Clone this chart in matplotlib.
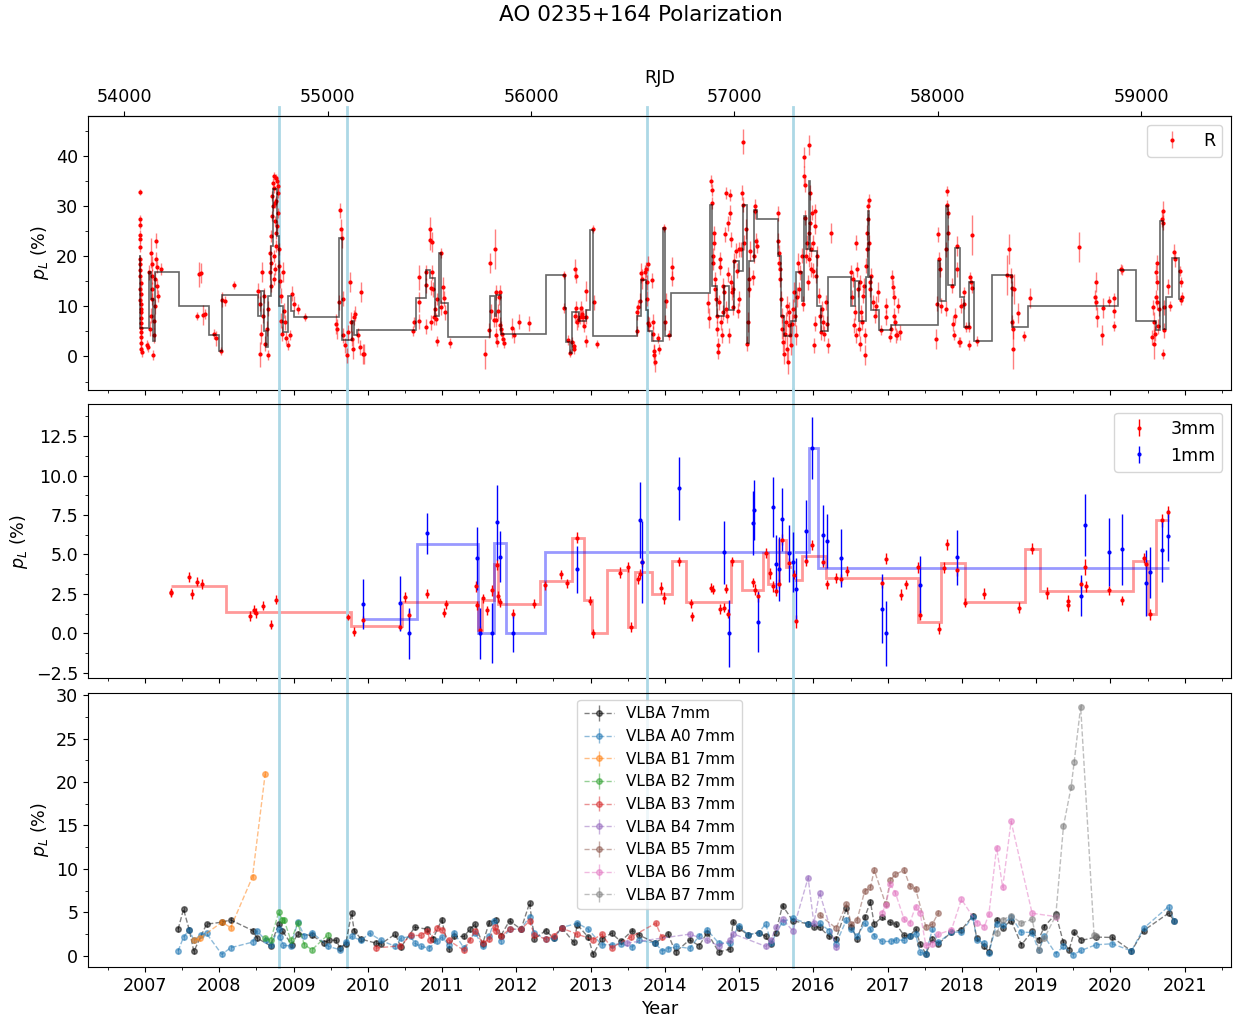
"""
AO 0235+164 polarization: optical R band, mm (3mm / 1mm) and VLBA 7mm knots
"""

import numpy as np
import matplotlib.pyplot as plt
from matplotlib.ticker import AutoMinorLocator, MultipleLocator, FixedLocator

# ---------------- optical R band (decimal year, p_L %, error) ----------------
r_year = [
    # 2006/07 season
    2006.930, 2006.926, 2006.928, 2006.931, 2006.933, 2006.929, 2006.935, 2006.932, 2006.937, 2006.934,
    2006.939, 2006.936, 2006.941, 2006.938, 2006.943, 2006.940, 2006.945, 2006.942, 2006.947, 2006.944,
    2006.949, 2006.946, 2006.951, 2006.948, 2006.953,
    2007.032, 2007.045, 2007.054, 2007.063, 2007.077, 2007.080, 2007.095, 2007.098, 2007.113, 2007.117,
    2007.131, 2007.144, 2007.153, 2007.167, 2007.176, 2007.212, 2007.100, 2007.140, 2007.160, 2007.120,
    2007.090,
    2007.706, 2007.729, 2007.760, 2007.783, 2007.805, 2007.931, 2007.954, 2008.021, 2008.030, 2008.075,
    2008.192,
    # 2008 flare
    2008.525, 2008.548, 2008.552, 2008.561, 2008.579, 2008.593, 2008.602, 2008.615, 2008.638, 2008.651,
    2008.660, 2008.678, 2008.687, 2008.696, 2008.705, 2008.714, 2008.723, 2008.732, 2008.734, 2008.741,
    2008.750, 2008.752, 2008.759, 2008.768, 2008.777, 2008.786, 2008.795, 2008.804, 2008.818, 2008.827,
    2008.836, 2008.845, 2008.854, 2008.867, 2008.885, 2008.903, 2008.921, 2008.953, 2008.975, 2009.011,
    2009.056, 2009.155, 2008.720, 2008.745, 2008.760, 2008.780, 2008.790, 2008.735, 2008.700, 2008.690,
    2008.800, 2008.770,
    2009.569, 2009.587, 2009.614, 2009.627, 2009.636, 2009.650, 2009.663, 2009.672, 2009.695, 2009.717,
    2009.731, 2009.762, 2009.776, 2009.785, 2009.798, 2009.812, 2009.830, 2009.866, 2009.897, 2009.911,
    2009.929, 2009.947,
    # 2010 - 2011
    2010.607, 2010.616, 2010.684, 2010.693, 2010.695, 2010.783, 2010.787, 2010.789, 2010.832, 2010.841,
    2010.850, 2010.864, 2010.866, 2010.855, 2010.873, 2010.886, 2010.900, 2010.918, 2010.931, 2010.933,
    2010.981, 2010.983, 2011.012, 2011.030, 2011.039, 2011.111,
    2011.574, 2011.633, 2011.642, 2011.660, 2011.696, 2011.718, 2011.720, 2011.727, 2011.732, 2011.741,
    2011.750, 2011.763, 2011.777, 2011.786, 2011.799, 2011.808, 2011.817, 2011.831, 2011.943, 2011.966,
    2012.042, 2012.173,
    # 2012 - 2013
    2012.641, 2012.645, 2012.699, 2012.722, 2012.744, 2012.776, 2012.780, 2012.789, 2012.794, 2012.798,
    2012.807, 2012.821, 2012.834, 2012.852, 2012.866, 2012.879, 2012.897, 2012.911, 2012.933, 2012.942,
    2012.944, 2013.037, 2013.046, 2013.090,
    2013.621, 2013.630, 2013.644, 2013.666, 2013.680, 2013.698, 2013.729, 2013.743, 2013.756, 2013.765,
    2013.770, 2013.779, 2013.788, 2013.833, 2013.842, 2013.844, 2013.851, 2013.860, 2013.869, 2013.905,
    2013.923, 2013.986, 2013.999, 2014.013, 2014.058, 2014.094, 2014.096,
    # 2014/15
    2014.575, 2014.598, 2014.620, 2014.629, 2014.638, 2014.643, 2014.647, 2014.656, 2014.665, 2014.674,
    2014.679, 2014.688, 2014.697, 2014.706, 2014.715, 2014.719, 2014.733, 2014.742, 2014.746, 2014.755,
    2014.764, 2014.778, 2014.787, 2014.800, 2014.814, 2014.818, 2014.823, 2014.836, 2014.845, 2014.854,
    2014.868, 2014.877, 2014.881, 2014.890, 2014.895, 2014.904, 2014.913, 2014.922, 2014.935, 2014.958,
    2014.971, 2014.980, 2014.994, 2015.003, 2015.025, 2015.039, 2015.048, 2015.057, 2015.070, 2015.093,
    2015.111, 2015.120, 2015.129, 2015.138, 2015.147, 2015.183, 2015.205, 2015.210, 2015.219, 2015.228,
    2015.237,
    # 2015/16
    2015.520, 2015.529, 2015.533, 2015.542, 2015.551, 2015.556, 2015.565, 2015.574, 2015.583, 2015.592,
    2015.601, 2015.614, 2015.628, 2015.641, 2015.650, 2015.659, 2015.668, 2015.677, 2015.691, 2015.700,
    2015.713, 2015.731, 2015.745, 2015.758, 2015.767, 2015.776, 2015.790, 2015.812, 2015.826, 2015.844,
    2015.857, 2015.871, 2015.875, 2015.884, 2015.893, 2015.902, 2015.911, 2015.925, 2015.934, 2015.938,
    2015.947, 2015.952, 2015.956, 2015.965, 2015.974, 2015.983, 2015.992, 2016.001, 2016.003, 2016.015,
    2016.024, 2016.028, 2016.037, 2016.046, 2016.082, 2016.091, 2016.105, 2016.114, 2016.127, 2016.136,
    2016.172, 2016.186, 2016.195, 2016.235,
    # 2016/17
    2016.510, 2016.523, 2016.532, 2016.546, 2016.559, 2016.568, 2016.577, 2016.586, 2016.600, 2016.609,
    2016.622, 2016.631, 2016.645, 2016.658, 2016.667, 2016.676, 2016.690, 2016.699, 2016.712, 2016.721,
    2016.726, 2016.735, 2016.739, 2016.744, 2016.748, 2016.757, 2016.766, 2016.780, 2016.802, 2016.825,
    2016.847, 2016.870, 2016.906, 2016.973, 2016.982, 2017.027, 2017.049, 2017.063, 2017.072, 2017.081,
    2017.085, 2017.094, 2017.108, 2017.130, 2017.144, 2017.162,
    2017.657, 2017.666, 2017.679, 2017.693, 2017.711, 2017.724, 2017.783, 2017.792, 2017.801, 2017.805,
    2017.810, 2017.814, 2017.873, 2017.882, 2017.895, 2017.904, 2017.927, 2017.936, 2017.954,
    # 2018 - 2020
    2017.972, 2017.994, 2018.026, 2018.030, 2018.053, 2018.093, 2018.098, 2018.107, 2018.116, 2018.129,
    2018.138, 2018.206, 2018.602, 2018.638, 2018.656, 2018.669, 2018.678, 2018.683, 2018.692, 2018.701,
    2018.759, 2018.840, 2018.917,
    2019.582, 2019.794, 2019.807, 2019.812, 2019.816, 2019.884, 2019.897, 2019.987, 2020.050, 2020.052,
    2020.054, 2020.136, 2020.149,
    2020.559, 2020.572, 2020.581, 2020.590, 2020.599, 2020.608, 2020.617, 2020.622, 2020.626, 2020.631,
    2020.640, 2020.649, 2020.694, 2020.703, 2020.707, 2020.712, 2020.716, 2020.721, 2020.779, 2020.797,
    2020.855, 2020.869, 2020.941, 2020.950, 2020.954, 2020.959,
]
r_pol = [
    32.9, 27.5, 26.2, 24.3, 23.5, 21.8, 19.5, 18.4, 17.2, 16.0,
    14.7, 13.5, 12.5, 11.3, 10.5, 9.5, 8.8, 7.6, 6.6, 5.6,
    4.9, 3.8, 2.6, 1.4, 0.9,
    2.2, 1.8, 16.8, 5.5, 20.7, 8.1, 13.4, 11.5, 0.2, 4.2,
    15.4, 23.1, 19.4, 17.8, 12.1, 17.4, 18.5, 10.0, 14.0, 7.0,
    16.0,
    8.1, 16.4, 16.6, 8.3, 8.5, 4.4, 3.6, 1.0, 11.3, 11.1,
    14.2,
    13.1, 10.5, 0.4, 4.5, 16.8, 8.1, 12.1, 2.5, 5.5, 0.2,
    9.5, 16.8, 20.7, 18.7, 28.0, 32.0, 34.6, 36.0, 15.4, 33.6,
    30.7, 17.4, 35.6, 24.7, 35.0, 32.7, 28.7, 21.4, 15.1, 12.1,
    7.1, 4.5, 16.8, 9.1, 6.8, 3.6, 2.2, 4.2, 12.5, 10.5,
    9.5, 7.9, 30.0, 27.0, 22.0, 26.0, 34.0, 20.0, 24.0, 14.0,
    18.0, 31.0,
    6.5, 5.5, 10.8, 29.2, 25.4, 23.7, 11.5, 4.2, 2.2, 0.2,
    4.8, 14.8, 6.8, 3.5, 1.5, 7.8, 8.5, 4.2, 1.8, 12.8,
    0.5, 0.5,
    5.0, 6.8, 15.8, 10.9, 7.0, 16.8, 14.2, 5.9, 25.4, 23.2,
    13.7, 22.9, 16.8, 6.8, 13.4, 7.8, 9.5, 7.5, 3.0, 11.5,
    9.8, 20.6, 13.9, 11.6, 8.8, 2.6,
    0.5, 5.2, 18.7, 9.0, 7.3, 21.4, 12.8, 4.2, 7.3, 2.8,
    9.0, 11.8, 12.8, 6.3, 5.5, 4.5, 3.4, 2.6, 5.6, 4.2,
    6.9, 6.6,
    16.2, 9.7, 3.2, 0.7, 2.8, 2.0, 1.5, 17.4, 8.1, 16.1,
    9.6, 6.8, 7.3, 7.9, 9.6, 8.5, 7.8, 6.1, 13.1, 7.9,
    3.0, 25.4, 10.8, 2.5,
    5.0, 8.8, 9.8, 11.1, 16.6, 15.4, 16.8, 17.4, 14.8, 11.5,
    6.6, 18.5, 6.3, 15.2, 6.9, 4.5, 1.0, 0.3, -1.1, 3.6,
    1.5, 25.6, 6.8, 11.1, 4.2, 17.8, 15.6,
    10.6, 7.6, 35.0, 33.3, 30.7, 20.1, 18.7, 24.6, 22.7, 15.4,
    13.4, 11.5, 8.1, 5.5, 2.2, 0.9, 10.8, 17.8, 19.4, 6.8,
    4.2, 8.8, 14.1, 12.8, 24.4, 32.7, 9.5, 8.1, 16.4, 26.6,
    4.2, 32.3, 28.7, 23.4, 14.8, 12.8, 9.8, 13.4, 19.1, 21.1,
    17.1, 9.1, 11.5, 21.4, 21.4, 32.7, 42.9, 30.3, 22.7, 25.4,
    2.5, 6.8, 13.4, 15.4, 21.1, 15.8, 20.1, 29.0, 30.0, 23.1,
    22.1,
    28.6, 23.1, 20.7, 18.7, 17.4, 15.4, 11.5, 8.1, 5.5, 2.8,
    0.5, 4.5, 6.8, 10.1, 1.5, -1.1, 6.2, 8.8, 4.2, 2.2,
    6.5, 9.5, 12.8, 8.1, 4.2, 11.8, 18.7, 13.4, 16.8, 20.1,
    10.5, 36.0, 39.9, 34.3, 27.7, 20.1, 22.7, 14.8, 19.4, 24.7,
    42.3, 32.7, 26.7, 17.4, 21.4, 28.7, 22.7, 17.1, 2.2, 29.0,
    26.0, 6.5, 16.1, 20.1, 12.1, 8.1, 4.8, 9.5, 6.8, 4.5,
    10.8, 6.5, 2.2, 24.7,
    16.8, 11.8, 15.4, 6.2, 8.8, 4.2, 22.7, 17.4, 13.4, 5.5,
    2.5, 14.8, 8.8, 6.8, 12.1, 14.1, 4.2, 0.2, 18.1, 21.4,
    24.7, 27.4, 30.0, 31.3, 22.7, 14.8, 13.4, 16.1, 10.8, 8.1,
    10.1, 12.8, 5.2, 10.1, 7.8, 3.8, 5.5, 15.8, 13.8, 11.8,
    8.1, 6.8, 4.2, 4.2, 10.1, 4.8,
    3.5, 10.5, 24.4, 19.4, 17.4, 10.1, 9.5, 21.4, 30.3, 33.0,
    28.7, 24.7, 14.1, 6.5, 4.2, 8.1, 22.1, 17.4, 2.8,
    2.8, 10.1, 12.9, 10.5, 5.8, 5.8, 2.2, 15.9, 14.8, 13.6,
    24.2, 3.0, 16.2, 21.5, 16.1, 13.6, 6.8, 1.5, 5.5, 13.4,
    8.7, 4.0, 11.6,
    21.9, 11.8, 14.8, 10.8, 7.8, 4.2, 9.6, 11.1, 11.6, 9.1,
    6.0, 17.4, 17.2,
    3.8, 9.8, 2.5, 6.8, 4.5, 11.8, 16.8, 18.7, 14.8, 10.8,
    6.0, 9.5, 27.4, 29.0, 26.7, 0.5, 5.2, 9.8, 14.0, 10.1,
    20.9, 19.4, 17.1, 14.8, 11.3, 11.8,
]
r_err = [
    0.6, 0.8, 0.8, 1.0, 0.8, 1.0, 0.8, 1.0, 1.0, 1.2,
    1.0, 1.0, 1.2, 1.0, 1.0, 1.2, 1.0, 1.0, 1.0, 1.2,
    1.0, 1.0, 1.0, 1.0, 1.0,
    1.0, 1.0, 1.5, 1.5, 3.0, 1.5, 1.5, 1.2, 1.0, 1.5,
    1.5, 1.5, 1.5, 1.2, 1.2, 1.2, 1.5, 1.5, 1.5, 1.5,
    1.5,
    0.8, 2.5, 2.0, 2.0, 1.0, 1.0, 1.5, 0.8, 1.5, 1.0,
    0.8,
    1.5, 1.5, 2.5, 2.0, 2.0, 1.5, 1.5, 1.5, 1.5, 1.0,
    1.5, 1.5, 1.5, 1.2, 1.0, 1.0, 1.0, 0.8, 1.2, 1.0,
    1.0, 1.2, 0.8, 1.2, 1.0, 1.0, 1.0, 1.2, 1.5, 1.5,
    1.5, 1.5, 2.0, 1.5, 1.5, 1.2, 1.0, 1.0, 1.5, 1.5,
    1.0, 0.8, 1.0, 1.0, 1.2, 1.0, 1.0, 1.2, 1.2, 1.2,
    1.2, 1.0,
    2.0, 2.0, 1.5, 1.5, 2.0, 2.0, 1.5, 1.5, 1.5, 1.5,
    1.5, 2.0, 2.0, 1.5, 2.0, 1.5, 1.5, 1.5, 1.5, 2.0,
    2.0, 2.0,
    1.0, 1.0, 2.5, 2.0, 1.5, 1.5, 1.5, 1.5, 2.5, 2.0,
    1.5, 2.0, 1.5, 1.5, 1.5, 1.5, 1.5, 1.2, 1.0, 1.2,
    1.5, 1.0, 2.0, 1.5, 1.5, 1.0,
    3.0, 1.5, 2.0, 1.5, 1.5, 4.0, 1.5, 1.5, 1.5, 1.0,
    1.5, 1.5, 1.5, 1.5, 1.5, 1.2, 1.2, 1.0, 2.0, 1.5,
    1.5, 1.5,
    0.8, 1.0, 1.0, 0.8, 1.0, 1.0, 1.0, 2.0, 1.5, 1.5,
    1.5, 1.5, 1.5, 1.5, 1.5, 1.5, 1.5, 1.2, 2.0, 1.5,
    1.2, 0.8, 1.5, 0.8,
    1.0, 1.5, 1.5, 1.5, 2.0, 2.0, 1.5, 1.5, 1.5, 1.5,
    1.5, 1.5, 1.5, 1.5, 1.5, 1.5, 1.5, 2.0, 2.0, 1.0,
    1.0, 0.8, 1.5, 1.5, 1.0, 2.0, 1.5,
    2.0, 2.0, 1.2, 1.2, 1.2, 1.5, 1.5, 1.5, 1.5, 1.5,
    1.5, 1.5, 1.5, 1.5, 1.5, 1.5, 1.5, 1.5, 1.5, 1.5,
    1.5, 1.5, 1.5, 1.5, 1.5, 1.2, 1.5, 1.5, 1.5, 1.5,
    1.5, 1.2, 1.5, 1.5, 1.5, 1.5, 1.5, 1.5, 1.5, 1.5,
    1.5, 1.5, 1.5, 1.5, 1.5, 1.5, 2.5, 1.5, 1.5, 2.0,
    1.5, 2.0, 1.5, 2.5, 2.0, 1.5, 1.5, 1.5, 1.5, 1.5,
    1.5,
    1.5, 1.5, 1.5, 1.5, 1.5, 1.5, 1.5, 1.5, 2.0, 2.0,
    2.0, 2.0, 2.0, 2.0, 2.5, 2.5, 2.0, 2.0, 2.0, 2.0,
    2.0, 2.0, 2.0, 2.0, 2.0, 2.0, 2.0, 1.5, 1.5, 1.5,
    1.5, 2.0, 2.0, 1.5, 1.5, 1.5, 1.5, 1.5, 1.5, 1.5,
    2.0, 1.5, 1.5, 1.5, 1.5, 1.5, 1.5, 1.5, 1.5, 1.5,
    1.5, 1.5, 1.5, 2.0, 1.5, 1.5, 1.5, 1.5, 1.5, 1.5,
    1.5, 1.5, 1.5, 2.0,
    1.5, 1.5, 1.5, 1.5, 1.5, 1.5, 1.5, 1.5, 1.5, 1.5,
    1.5, 1.5, 1.5, 1.5, 1.5, 1.5, 1.5, 2.0, 1.5, 1.5,
    1.5, 1.2, 1.2, 1.2, 1.5, 1.5, 1.5, 1.5, 1.5, 1.5,
    2.0, 2.0, 1.0, 1.5, 1.5, 1.0, 1.0, 1.5, 1.5, 1.5,
    1.5, 1.5, 1.5, 1.0, 1.5, 1.5,
    2.0, 1.5, 1.5, 1.5, 1.5, 1.5, 1.5, 1.5, 1.0, 1.0,
    1.0, 1.5, 1.5, 1.5, 1.0, 1.5, 2.0, 1.5, 1.0,
    1.0, 1.5, 1.0, 1.0, 1.0, 1.0, 1.0, 1.0, 1.0, 1.0,
    4.0, 1.0, 4.0, 3.0, 1.5, 1.5, 1.5, 4.0, 2.0, 3.0,
    2.0, 1.0, 2.0,
    3.0, 1.5, 2.0, 1.5, 2.0, 2.0, 2.0, 1.0, 1.0, 1.5,
    1.0, 1.0, 1.0,
    1.5, 1.5, 3.0, 2.0, 1.5, 1.5, 1.5, 1.5, 1.5, 1.5,
    1.5, 1.5, 1.5, 2.0, 1.5, 1.0, 1.5, 1.5, 1.5, 1.0,
    1.5, 1.5, 1.0, 1.0, 1.0, 1.0,
]

# Bayesian blocks of the R band (block edges, block values)
bb_edges = [
    2006.925, 2006.935, 2007.050, 2007.077, 2007.108, 2007.131, 2007.459, 2007.864, 2007.994, 2008.030,
    2008.525, 2008.560, 2008.600, 2008.635, 2008.650, 2008.690, 2008.720, 2008.780, 2008.810, 2008.860,
    2008.930, 2008.970, 2009.000, 2009.608, 2009.650, 2009.790, 2009.820, 2009.860, 2010.648, 2010.783,
    2010.832, 2010.900, 2010.963, 2010.986, 2011.080, 2011.642, 2011.710, 2011.727, 2011.790, 2012.402,
    2012.650, 2012.672, 2012.717, 2012.753, 2012.843, 2012.942, 2012.987, 2013.032, 2013.630, 2013.675,
    2013.743, 2013.779, 2013.833, 2013.977, 2014.004, 2014.080, 2014.611, 2014.640, 2014.700, 2014.800,
    2014.860, 2014.935, 2015.002, 2015.048, 2015.102, 2015.138, 2015.205, 2015.237, 2015.520, 2015.560,
    2015.600, 2015.700, 2015.770, 2015.840, 2015.870, 2015.902, 2015.947, 2015.960, 2016.050, 2016.100,
    2016.195, 2016.510, 2016.560, 2016.620, 2016.710, 2016.735, 2016.750, 2016.780, 2016.890, 2017.050,
    2017.679, 2017.710, 2017.790, 2017.815, 2017.904, 2017.972, 2018.026, 2018.098, 2018.161, 2018.399,
    2018.669, 2018.885, 2020.100, 2020.347, 2020.613, 2020.671, 2020.707, 2020.748, 2020.829, 2020.919,
    2020.964,
]
bb_vals = [
    20.0, 5.75, 16.8, 11.4, 3.0, 16.8, 10.0, 4.2, 1.0, 12.3,
    8.0, 13.0, 5.0, 1.8, 12.0, 22.0, 33.5, 24.0, 10.0, 4.8,
    12.0, 9.0, 7.9, 23.7, 3.2, 7.1, 4.2, 5.3, 11.7, 17.2,
    15.6, 8.0, 20.6, 10.7, 3.8, 12.0, 8.0, 12.3, 4.5, 16.2,
    9.7, 2.8, 0.7, 8.8, 7.1, 9.3, 25.3, 4.0, 8.1, 15.3,
    9.3, 5.0, 3.1, 25.6, 4.0, 12.7, 30.3, 14.0, 8.0, 14.0,
    9.3, 19.1, 17.0, 30.3, 2.7, 19.1, 29.2, 27.4, 20.0, 8.0,
    4.0, 7.0, 16.8, 11.0, 28.1, 21.4, 35.0, 21.0, 10.0, 5.0,
    15.8, 10.0, 15.0, 7.0, 15.8, 29.0, 15.8, 9.2, 5.2, 6.2,
    19.1, 11.0, 30.0, 14.2, 21.7, 11.8, 5.8, 14.9, 3.0, 16.2,
    5.9, 10.0, 17.3, 7.1, 5.2, 27.0, 5.5, 11.8, 19.7, 11.5,
]

# ---------------- mm polarization ----------------
mm3_year = [
    2007.352, 2007.354, 2007.595, 2007.631, 2007.704, 2007.771, 2008.411, 2008.463, 2008.499, 2008.587,
    2008.690, 2008.768, 2009.728, 2009.816, 2009.930, 2010.431, 2010.498, 2010.550, 2010.792, 2011.025,
    2011.046, 2011.454, 2011.469, 2011.510, 2011.557, 2011.603, 2011.676, 2011.733, 2011.758, 2011.774,
    2011.950, 2012.244, 2012.389, 2012.606, 2012.683, 2012.822, 2012.998, 2013.034, 2013.396, 2013.499,
    2013.540, 2013.639, 2013.659, 2013.695, 2013.953, 2013.989, 2014.195, 2014.349, 2014.365, 2014.622,
    2014.642, 2014.745, 2014.797, 2014.828, 2014.853, 2014.900, 2015.183, 2015.209, 2015.250, 2015.358,
    2015.414, 2015.450, 2015.492, 2015.533, 2015.574, 2015.677, 2015.739, 2015.770, 2015.898, 2015.981,
    2016.135, 2016.186, 2016.305, 2016.372, 2016.459, 2016.922, 2016.979, 2017.180, 2017.252, 2017.406,
    2017.442, 2017.694, 2017.756, 2017.802, 2017.936, 2018.044, 2018.297, 2018.765, 2018.950, 2019.151,
    2019.424, 2019.434, 2019.599, 2019.655, 2019.676, 2019.985, 2020.149, 2020.453, 2020.484, 2020.530,
    2020.690, 2020.772,
]
mm3_pol = [
    2.58, 2.62, 3.57, 2.49, 3.27, 3.13, 1.10, 1.50, 1.29, 1.75,
    0.55, 2.13, 1.03, 0.11, 0.82, 0.40, 2.30, 1.18, 2.51, 1.31,
    1.84, 2.98, 1.78, 0.19, 2.22, 1.46, 2.72, 4.35, 2.34, 1.96,
    1.25, 1.88, 3.04, 3.74, 3.17, 6.06, 2.07, 0.00, 3.84, 4.20,
    0.40, 3.42, 3.76, 4.50, 2.87, 2.24, 4.56, 1.90, 1.08, 2.89,
    2.77, 1.54, 1.63, 2.83, 1.25, 4.56, 3.23, 2.77, 2.34, 5.09,
    3.82, 2.98, 2.68, 3.15, 5.93, 4.45, 3.72, 0.76, 4.60, 5.61,
    4.50, 3.10, 3.51, 3.46, 3.95, 3.19, 4.73, 2.45, 3.10, 4.20,
    1.16, 0.28, 4.16, 5.64, 3.99, 1.94, 2.51, 1.63, 5.36, 2.56,
    1.78, 2.05, 3.10, 4.20, 2.98, 2.72, 2.09, 4.77, 4.37, 1.20,
    7.16, 7.68,
]
mm3_err = [
    0.25, 0.25, 0.3, 0.3, 0.3, 0.3, 0.3, 0.3, 0.3, 0.3,
    0.3, 0.3, 0.2, 0.3, 0.3, 0.2, 0.3, 0.3, 0.3, 0.3,
    0.3, 0.35, 0.3, 0.3, 0.3, 0.3, 0.35, 0.35, 0.35, 0.3,
    0.3, 0.3, 0.3, 0.3, 0.3, 0.35, 0.3, 0.3, 0.35, 0.3,
    0.3, 0.3, 0.3, 0.3, 0.4, 0.35, 0.3, 0.3, 0.3, 0.3,
    0.3, 0.3, 0.3, 0.3, 0.3, 0.3, 0.3, 0.35, 0.35, 0.3,
    0.35, 0.35, 0.3, 0.3, 0.35, 0.3, 0.3, 0.4, 0.3, 0.3,
    0.3, 0.3, 0.3, 0.3, 0.3, 0.3, 0.35, 0.35, 0.3, 0.35,
    0.3, 0.35, 0.35, 0.35, 0.35, 0.3, 0.35, 0.35, 0.35, 0.4,
    0.35, 0.35, 0.3, 0.5, 0.35, 0.3, 0.3, 0.3, 0.3, 0.35,
    0.4, 0.4,
]
mm3_edges = [
    2007.347, 2008.096, 2009.775, 2010.462, 2011.479, 2011.540, 2011.700, 2011.750, 2012.321, 2012.750,
    2012.905, 2013.024, 2013.215, 2013.509, 2013.592, 2013.830, 2014.092, 2014.287, 2014.889, 2015.044,
    2015.317, 2015.389, 2015.543, 2015.625, 2015.728, 2015.842, 2016.166, 2017.411, 2017.720, 2018.039,
    2018.852, 2019.048, 2020.304, 2020.510, 2020.613, 2020.782,
]
mm3_vals = [
    3.02, 1.33, 0.47, 1.99, 0.19, 2.13, 4.40, 1.86, 3.32, 6.06,
    2.09, 0.00, 3.99, 0.40, 3.87, 2.51, 4.56, 1.96, 4.58, 2.77,
    5.09, 3.15, 5.93, 4.20, 3.36, 4.92, 3.51, 0.74, 4.45, 1.99,
    5.34, 2.68, 4.58, 1.20, 7.18,
]

mm1_year = [
    2009.930, 2010.431, 2010.550, 2010.792, 2011.469, 2011.505, 2011.676, 2011.733, 2011.774, 2011.950,
    2012.822, 2013.659, 2013.695, 2014.196, 2014.802, 2014.859, 2015.188, 2015.203, 2015.250, 2015.450,
    2015.492, 2015.533, 2015.574, 2015.677, 2015.729, 2015.770, 2015.898, 2015.981, 2016.135, 2016.186,
    2016.372, 2016.922, 2016.979, 2017.442, 2017.936, 2019.599, 2019.655, 2019.985, 2020.154, 2020.484,
    2020.530, 2020.690, 2020.772,
]
mm1_pol = [
    1.86, 1.90, 0.00, 6.35, 4.75, 0.00, 0.00, 7.03, 4.86, 0.00,
    4.05, 7.16, 4.54, 9.18, 5.15, 0.00, 6.99, 7.79, 0.70, 7.98,
    4.41, 4.08, 7.24, 5.07, 4.52, 2.79, 6.46, 11.75, 6.23, 5.85,
    4.77, 1.56, 0.00, 3.08, 4.83, 2.37, 6.86, 5.17, 5.34, 3.21,
    3.87, 5.26, 6.19,
]
mm1_err = [
    1.56, 1.74, 1.6, 1.3, 2.0, 1.6, 1.9, 2.4, 1.6, 1.2,
    1.5, 2.4, 2.6, 2.0, 2.0, 2.1, 2.0, 1.9, 1.9, 1.9,
    1.85, 2.0, 2.0, 1.8, 1.9, 2.0, 2.0, 1.95, 1.9, 1.7,
    1.85, 2.2, 2.05, 1.8, 1.75, 1.3, 1.95, 2.15, 2.25, 2.1,
    1.6, 2.0, 1.6,
]
mm1_edges = [2009.930, 2010.668, 2011.479, 2011.702, 2011.856, 2012.389, 2015.945, 2016.058, 2020.782]
mm1_vals = [0.89, 5.68, 0.00, 5.72, 0.00, 5.15, 11.75, 4.16]

# ---------------- VLBA 7mm core and knots ----------------
vlba_year = [
    2007.445, 2007.518, 2007.595, 2007.657, 2007.828, 2008.034, 2008.153, 2008.447, 2008.509, 2008.690,
    2008.799, 2008.850, 2008.974, 2009.057, 2009.248, 2009.408, 2009.480, 2009.573, 2009.625, 2009.703,
    2009.780, 2009.816, 2009.909, 2010.106, 2010.178, 2010.369, 2010.446, 2010.632, 2010.803, 2010.875,
    2010.994, 2011.092, 2011.159, 2011.293, 2011.376, 2011.443, 2011.546, 2011.634, 2011.727, 2011.789,
    2011.908, 2012.063, 2012.177, 2012.244, 2012.394, 2012.502, 2012.611, 2012.771, 2012.822, 2012.967,
    2013.034, 2013.148, 2013.282, 2013.406, 2013.561, 2013.649, 2013.871, 2014.040, 2014.143, 2014.334,
    2014.462, 2014.570, 2014.725, 2014.874, 2014.920, 2014.992, 2015.121, 2015.265, 2015.358, 2015.430,
    2015.492, 2015.584, 2015.723, 2015.929, 2016.006, 2016.083, 2016.212, 2016.305, 2016.444, 2016.511,
    2016.588, 2016.691, 2016.768, 2016.819, 2016.922, 2017.025, 2017.113, 2017.221, 2017.298, 2017.375,
    2017.437, 2017.514, 2017.602, 2017.684, 2017.859, 2017.993, 2018.147, 2018.199, 2018.302, 2018.363,
    2018.467, 2018.549, 2018.662, 2018.801, 2018.945, 2019.032, 2019.110, 2019.264, 2019.367, 2019.444,
    2019.511, 2019.609, 2019.804, 2020.026, 2020.283, 2020.448, 2020.782, 2020.860,
]
vlba_pol = [
    3.05, 5.35, 2.98, 0.50, 3.63, 3.86, 4.12, 2.90, 2.02, 1.14,
    3.63, 2.86, 1.26, 2.52, 2.33, 1.45, 1.83, 1.76, 0.88, 1.37,
    4.89, 2.90, 1.91, 1.45, 1.37, 2.48, 0.99, 3.28, 3.05, 1.91,
    4.12, 0.76, 2.21, 2.21, 3.05, 3.63, 1.37, 3.82, 4.12, 2.29,
    4.01, 3.05, 6.04, 1.94, 2.90, 2.02, 3.24, 1.56, 3.55, 2.14,
    0.15, 1.91, 2.59, 1.64, 2.90, 2.40, 1.45, 2.52, 0.42, 1.83,
    1.14, 2.67, 0.42, 0.76, 3.93, 3.17, 2.40, 2.67, 2.21, 1.37,
    2.67, 5.77, 4.01, 3.67, 3.36, 3.28, 2.21, 1.91, 5.46, 3.36,
    1.91, 4.43, 6.19, 3.63, 4.43, 3.86, 3.63, 2.33, 2.29, 3.05,
    1.37, 0.23, 1.91, 1.37, 2.71, 2.98, 4.58, 2.02, 1.07, 0.42,
    4.12, 3.24, 4.05, 1.26, 2.79, 1.83, 3.36, 4.81, 1.52, 0.68,
    2.71, 1.76, 2.14, 2.10, 0.54, 2.90, 4.89, 4.01,
]
a0_year = [
    2007.445, 2007.518, 2007.595, 2007.657, 2007.750, 2007.828, 2008.034, 2008.153, 2008.447, 2008.509,
    2008.628, 2008.690, 2008.799, 2008.820, 2008.861, 2008.964, 2009.057, 2009.145, 2009.248, 2009.470,
    2009.625, 2009.703, 2009.780, 2009.909, 2010.023, 2010.178, 2010.369, 2010.446, 2010.575, 2010.632,
    2010.710, 2010.824, 2010.927, 2010.994, 2011.092, 2011.159, 2011.293, 2011.443, 2011.546, 2011.634,
    2011.701, 2011.789, 2011.908, 2012.063, 2012.177, 2012.244, 2012.394, 2012.502, 2012.611, 2012.822,
    2012.967, 2013.148, 2013.282, 2013.406, 2013.561, 2013.649, 2013.871, 2013.963,
    2014.040, 2014.143, 2014.334, 2014.462, 2014.570, 2014.725, 2014.874, 2014.992, 2015.121, 2015.265,
    2015.358, 2015.430, 2015.584, 2015.723, 2015.929, 2016.083, 2016.212, 2016.305, 2016.444, 2016.511,
    2016.588, 2016.691, 2016.768, 2016.819, 2016.922, 2017.051, 2017.113, 2017.221, 2017.298, 2017.375,
    2017.437, 2017.514, 2017.602, 2017.684, 2017.859, 2017.993, 2018.147, 2018.199, 2018.302, 2018.363,
    2018.467, 2018.549, 2018.662, 2018.801, 2018.945, 2019.032, 2019.110, 2019.264, 2019.367, 2019.496,
    2019.609, 2019.804, 2020.026, 2020.283, 2020.448, 2020.782, 2020.860,
]
a0_pol = [
    0.54, 2.14, 2.98, 1.76, 2.40, 2.56, 0.15, 0.92, 1.56, 2.82,
    1.76, 1.22, 3.05, 2.10, 1.18, 1.14, 3.86, 2.29, 2.67, 1.07,
    0.68, 1.56, 2.21, 1.76, 2.59, 1.76, 1.07, 2.02, 2.21, 1.45,
    1.07, 0.88, 1.64, 2.14, 1.26, 2.67, 0.88, 2.67, 1.07, 2.21,
    4.05, 1.64, 3.05, 3.05, 4.50, 2.59, 1.91, 2.02, 3.24, 3.74,
    3.05, 1.26, 1.26, 1.37, 0.99, 1.76, 1.45, 0.54,
    0.80, 1.07, 0.84, 2.29, 2.98, 1.45, 1.45, 3.44, 2.40, 2.67,
    3.67, 1.45, 3.93, 4.31, 3.67, 3.74, 2.90, 1.37, 4.12, 3.05,
    2.21, 3.74, 3.05, 2.29, 1.64, 1.64, 1.83, 1.76, 2.29, 2.52,
    0.38, 0.23, 3.05, 1.52, 2.71, 2.71, 4.50, 1.83, 1.45, 0.30,
    3.67, 3.55, 4.50, 2.71, 2.67, 0.61, 2.21, 0.23, 1.07, 0.11,
    0.61, 1.26, 1.37, 0.54, 3.17, 5.66, 4.01,
]
b1_year = [2007.657, 2007.740, 2008.034, 2008.153, 2008.447, 2008.618]
b1_pol = [1.76, 2.02, 3.86, 3.24, 9.09, 20.98]
b2_year = [2008.618, 2008.690, 2008.799, 2008.850, 2008.871, 2008.964, 2009.057, 2009.145, 2009.248, 2009.460]
b2_pol = [2.02, 1.76, 5.00, 4.12, 4.12, 1.76, 3.74, 1.26, 0.68, 2.40]
b3_year = [
    2010.106, 2010.436, 2010.575, 2010.710, 2010.803, 2010.834, 2010.927, 2010.994, 2011.092, 2011.293,
    2011.376, 2011.443, 2011.546, 2011.634, 2011.712, 2011.727, 2011.789, 2011.908, 2012.063, 2012.177,
    2012.244, 2012.394, 2012.502, 2012.611, 2012.822, 2013.034, 2013.148, 2013.282, 2013.540, 2013.876,
    2013.959,
]
b3_pol = [
    0.88, 1.14, 2.33, 2.33, 2.79, 1.83, 3.21, 2.98, 1.76, 0.61,
    1.83, 2.90, 1.45, 1.91, 3.36, 2.79, 2.21, 3.05, 3.05, 3.97,
    2.40, 1.91, 2.29, 3.17, 2.48, 1.83, 2.48, 0.92, 2.14, 3.74,
    2.14,
]
b4_year = [2013.484, 2014.334, 2014.570, 2014.725, 2014.874, 2014.920, 2015.358, 2015.430, 2015.492, 2015.584,
           2015.723, 2015.929, 2016.006, 2016.083, 2016.305]
b4_pol = [1.45, 2.48, 1.76, 1.14, 1.76, 2.52, 1.07, 1.76, 3.28, 4.20, 2.86, 8.98, 3.74, 7.26, 0.99]
b5_year = [2016.083, 2016.305, 2016.444, 2016.511, 2016.588, 2016.691, 2016.768, 2016.819, 2016.974, 2017.036,
           2017.103, 2017.221, 2017.298, 2017.375, 2017.514, 2017.602, 2017.684]
b5_pol = [4.70, 3.17, 5.92, 3.63, 4.12, 7.45, 7.87, 9.86, 5.92, 8.71, 9.36, 9.86, 8.06, 7.72, 3.36, 3.63, 4.96]
b6_year = [2016.922, 2016.974, 2017.036, 2017.103, 2017.221, 2017.298, 2017.375, 2017.437, 2017.514, 2017.602,
           2017.684, 2017.859, 2017.993, 2018.199, 2018.302, 2018.363, 2018.467, 2018.549, 2018.662, 2018.945,
           2019.264]
b6_pol = [4.89, 5.84, 8.21, 7.26, 4.20, 3.74, 5.65, 4.96, 1.18, 1.37, 2.48, 2.98, 6.49, 3.82, 3.36, 4.77,
          12.46, 7.87, 15.48, 4.89, 4.50]
b7_year = [2018.467, 2018.549, 2018.662, 2018.801, 2018.945, 2019.032, 2019.110, 2019.264, 2019.367, 2019.470,
           2019.511, 2019.599, 2019.779, 2019.804]
b7_pol = [2.59, 4.12, 4.62, 3.74, 4.20, 0.68, 2.02, 4.62, 14.90, 19.41, 22.28, 28.70, 2.40, 2.29]

# epochs marked by vertical lines (decimal year)
marked_epochs = [2008.80, 2009.72, 2013.76, 2015.72]
rjd_ticks = [54000, 55000, 56000, 57000, 58000, 59000]


def yr2rjd(y):
    return 54000.0 + (np.asarray(y) - 2006.7228) * 365.25


def rjd2yr(r):
    return 2006.7228 + (np.asarray(r) - 54000.0) / 365.25


plt.rcParams['font.size'] = 12.6

fig = plt.figure(figsize=(12.35, 10.17), dpi=100)
ax1 = fig.add_axes([0.0713, 0.6165, 0.9255, 0.2694])
ax2 = fig.add_axes([0.0713, 0.3330, 0.9255, 0.2697], sharex=ax1)
ax3 = fig.add_axes([0.0713, 0.0492, 0.9255, 0.2697], sharex=ax1)

# --- optical
eb = ax1.errorbar(r_year, r_pol, yerr=r_err, fmt='.', color='red', ms=4, elinewidth=1, label='R', zorder=2)
eb[2][0].set_alpha(0.5)
ax1.stairs(bb_vals, bb_edges, baseline=None, color='black', alpha=0.6, lw=1.2, zorder=3)
ax1.set_ylim(-6.7, 48.0)
ax1.set_ylabel('$p_L$ (%)')
ax1.legend(loc='upper right')

# --- mm
ax2.errorbar(mm3_year, mm3_pol, yerr=mm3_err, fmt='.', color='red', ms=4, elinewidth=1, label='3mm')
ax2.errorbar(mm1_year, mm1_pol, yerr=mm1_err, fmt='.', color='blue', ms=4, elinewidth=1, label='1mm')
ax2.stairs(mm3_vals, mm3_edges, baseline=None, color='red', alpha=0.4, lw=2)
ax2.stairs(mm1_vals, mm1_edges, baseline=None, color='blue', alpha=0.4, lw=2)
ax2.set_ylim(-2.85, 14.53)
ax2.yaxis.set_major_locator(MultipleLocator(2.5))
ax2.set_ylabel('$p_L$ (%)')
ax2.legend(loc='upper right')

# --- VLBA
vlba_series = [
    ('VLBA 7mm', vlba_year, vlba_pol, 'k'),
    ('VLBA A0 7mm', a0_year, a0_pol, 'C0'),
    ('VLBA B1 7mm', b1_year, b1_pol, 'C1'),
    ('VLBA B2 7mm', b2_year, b2_pol, 'C2'),
    ('VLBA B3 7mm', b3_year, b3_pol, 'C3'),
    ('VLBA B4 7mm', b4_year, b4_pol, 'C4'),
    ('VLBA B5 7mm', b5_year, b5_pol, 'C5'),
    ('VLBA B6 7mm', b6_year, b6_pol, 'C6'),
    ('VLBA B7 7mm', b7_year, b7_pol, 'C7'),
]
for name, yrs, pol, col in vlba_series:
    ax3.errorbar(yrs, pol, yerr=0.3, fmt='o--', color=col, ms=4, lw=1, alpha=0.5, label=name)
ax3.set_ylim(-1.3, 30.3)
ax3.set_ylabel('$p_L$ (%)')
ax3.set_xlabel('Year')
ax3.legend(loc='upper center', fontsize=11)

ax1.set_xlim(2006.2324, 2021.624)
ax3.xaxis.set_major_locator(MultipleLocator(1))
ax3.xaxis.set_minor_locator(AutoMinorLocator(2))
for ax in (ax1, ax2, ax3):
    ax.yaxis.set_minor_locator(AutoMinorLocator(2))
ax1.tick_params(labelbottom=False)
ax2.tick_params(labelbottom=False)

# vertical markers running through all panels
for ax, top in ((ax1, 1.034), (ax2, 1.055), (ax3, 1.055)):
    for ep in marked_epochs:
        ax.axvline(ep, ymin=0, ymax=top, color='lightblue', lw=2, zorder=1, clip_on=False)

sec = ax1.secondary_xaxis('top', functions=(yr2rjd, rjd2yr))
sec.xaxis.set_major_locator(FixedLocator(rjd_ticks))
sec.set_xlabel('RJD')

fig.text(0.5193, 0.995, 'AO 0235+164 Polarization', ha='center', va='top', fontsize=15.5)

plt.savefig('out.png', dpi=100, facecolor='white')
